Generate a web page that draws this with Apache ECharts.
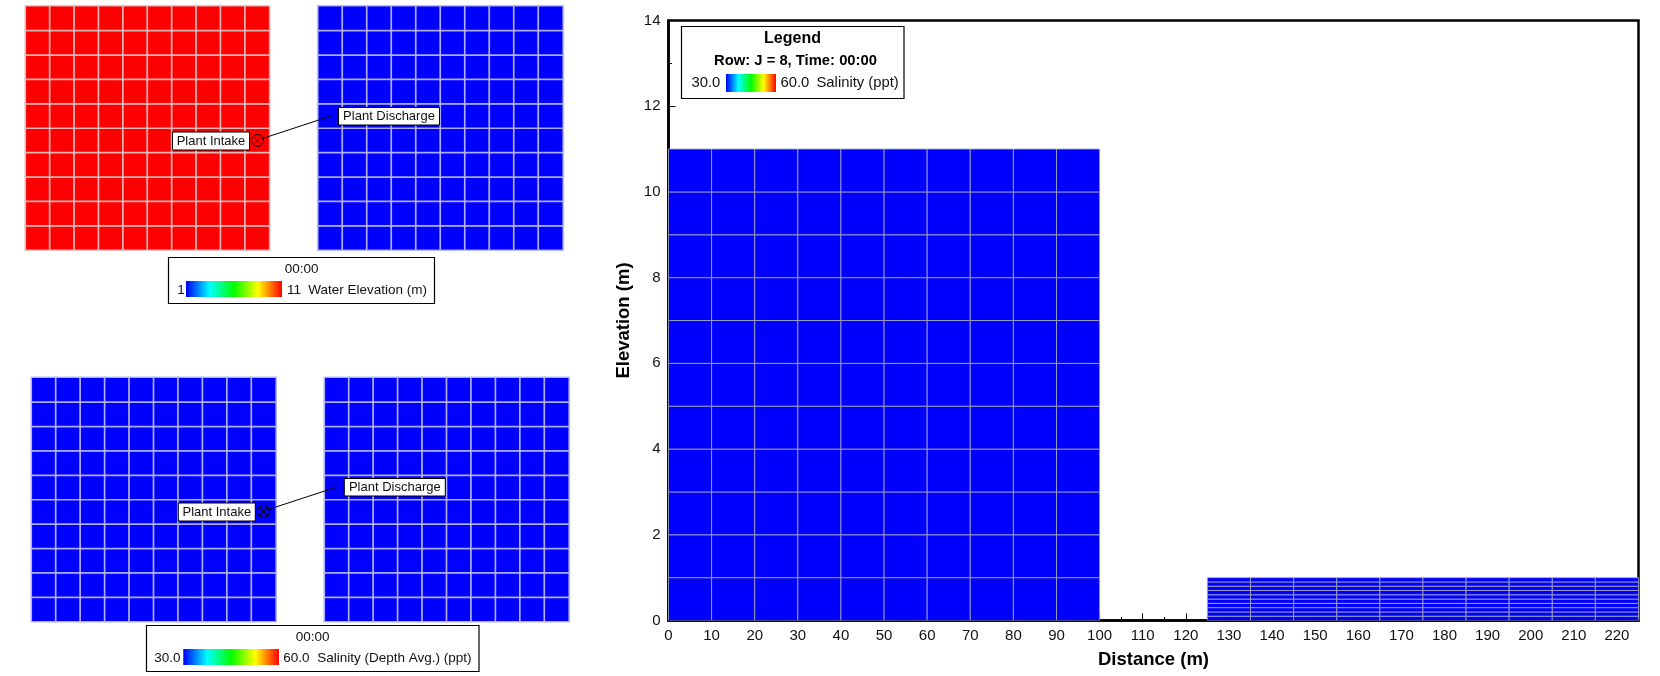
<!DOCTYPE html>
<html>
<head>
<meta charset="utf-8">
<style>html,body{margin:0;padding:0;background:#fff}#c{width:1660px;height:676px}</style>
<script src="https://cdn.jsdelivr.net/npm/echarts@6/dist/echarts.min.js"></script>
</head>
<body>
<div id="c"></div>
<script>
const gridColumns = ['1','2','3','4','5','6','7','8','9','10'];
const gridRows = ['1','2','3','4','5','6','7','8','9','10'];
const intakeElevation = [
 [11,11,11,11,11,11,11,11,11,11],[11,11,11,11,11,11,11,11,11,11],
 [11,11,11,11,11,11,11,11,11,11],[11,11,11,11,11,11,11,11,11,11],
 [11,11,11,11,11,11,11,11,11,11],[11,11,11,11,11,11,11,11,11,11],
 [11,11,11,11,11,11,11,11,11,11],[11,11,11,11,11,11,11,11,11,11],
 [11,11,11,11,11,11,11,11,11,11],[11,11,11,11,11,11,11,11,11,11]];
const dischargeElevation = [
 [1,1,1,1,1,1,1,1,1,1],[1,1,1,1,1,1,1,1,1,1],[1,1,1,1,1,1,1,1,1,1],[1,1,1,1,1,1,1,1,1,1],
 [1,1,1,1,1,1,1,1,1,1],[1,1,1,1,1,1,1,1,1,1],[1,1,1,1,1,1,1,1,1,1],[1,1,1,1,1,1,1,1,1,1],
 [1,1,1,1,1,1,1,1,1,1],[1,1,1,1,1,1,1,1,1,1]];
const intakeSalinity = [
 [30,30,30,30,30,30,30,30,30,30],[30,30,30,30,30,30,30,30,30,30],
 [30,30,30,30,30,30,30,30,30,30],[30,30,30,30,30,30,30,30,30,30],
 [30,30,30,30,30,30,30,30,30,30],[30,30,30,30,30,30,30,30,30,30],
 [30,30,30,30,30,30,30,30,30,30],[30,30,30,30,30,30,30,30,30,30],
 [30,30,30,30,30,30,30,30,30,30],[30,30,30,30,30,30,30,30,30,30]];
const dischargeSalinity = [
 [30,30,30,30,30,30,30,30,30,30],[30,30,30,30,30,30,30,30,30,30],
 [30,30,30,30,30,30,30,30,30,30],[30,30,30,30,30,30,30,30,30,30],
 [30,30,30,30,30,30,30,30,30,30],[30,30,30,30,30,30,30,30,30,30],
 [30,30,30,30,30,30,30,30,30,30],[30,30,30,30,30,30,30,30,30,30],
 [30,30,30,30,30,30,30,30,30,30],[30,30,30,30,30,30,30,30,30,30]];
const intakeXEdges = [0,10,20,30,40,50,60,70,80,90,100];
const intakeZEdges = [0,1,2,3,4,5,6,7,8,9,10,11];
const intakeSection = [
 [30,30,30,30,30,30,30,30,30,30],[30,30,30,30,30,30,30,30,30,30],[30,30,30,30,30,30,30,30,30,30],
 [30,30,30,30,30,30,30,30,30,30],[30,30,30,30,30,30,30,30,30,30],[30,30,30,30,30,30,30,30,30,30],
 [30,30,30,30,30,30,30,30,30,30],[30,30,30,30,30,30,30,30,30,30],[30,30,30,30,30,30,30,30,30,30],
 [30,30,30,30,30,30,30,30,30,30],[30,30,30,30,30,30,30,30,30,30]];
const dischargeXEdges = [125,135,145,155,165,175,185,195,205,215,225];
const dischargeZEdges = [0,0.1,0.2,0.3,0.4,0.5,0.6,0.7,0.8,0.9,1];
const dischargeSection = [
 [30,30,30,30,30,30,30,30,30,30],[30,30,30,30,30,30,30,30,30,30],
 [30,30,30,30,30,30,30,30,30,30],[30,30,30,30,30,30,30,30,30,30],
 [30,30,30,30,30,30,30,30,30,30],[30,30,30,30,30,30,30,30,30,30],
 [30,30,30,30,30,30,30,30,30,30],[30,30,30,30,30,30,30,30,30,30],
 [30,30,30,30,30,30,30,30,30,30],[30,30,30,30,30,30,30,30,30,30]];
const rainbow = ['#0000ff','#00ffff','#00ff00','#ffff00','#ff0000'];
const FONT = '"Liberation Sans", Arial, sans-serif';

function cells(rows){
  const out=[];
  rows.forEach((r,j)=>r.forEach((v,i)=>out.push([i,j,v])));
  return out;
}
function sectionCells(xe,ze,rows){
  const out=[];
  rows.forEach((r,j)=>r.forEach((v,i)=>out.push([xe[i],xe[i+1],ze[j],ze[j+1],v])));
  return out;
}
const panels = [
 {left:25.5,top:6,width:244,height:244,data:intakeElevation,line:'rgba(225,195,195,0.9)'},
 {left:318,top:6,width:245,height:244,data:dischargeElevation,line:'rgba(185,185,245,0.9)'},
 {left:31.5,top:377.5,width:244.5,height:244,data:intakeSalinity,line:'rgba(185,185,245,0.9)'},
 {left:324.5,top:377.5,width:244.5,height:244,data:dischargeSalinity,line:'rgba(185,185,245,0.9)'}
];
const grids = panels.map(p=>({left:p.left,top:p.top,width:p.width,height:p.height,show:false}));
const xAxes = panels.map((p,i)=>({type:'category',gridIndex:i,data:gridColumns,show:false}));
const yAxes = panels.map((p,i)=>({type:'category',gridIndex:i,data:gridRows,show:false}));
const series = panels.map((p,i)=>({
  type:'heatmap',xAxisIndex:i,yAxisIndex:i,data:cells(p.data),
  itemStyle:{borderColor:p.line,borderWidth:1.7},
  emphasis:{disabled:true},silent:true
}));

grids.push({left:668.5,top:20.5,width:970,height:600,show:true,borderColor:'#000',borderWidth:2.5,backgroundColor:'#fff'});
xAxes.push({type:'value',gridIndex:4,min:0,max:225,interval:10,
  axisLine:{show:true,onZero:false,lineStyle:{color:'#000',width:2.5}},
  axisTick:{show:true,inside:true,length:7,lineStyle:{color:'#000',width:1}},
  minorTick:{show:true,splitNumber:2,length:3.5,lineStyle:{color:'#000',width:1}},
  splitLine:{show:false},
  axisLabel:{color:'#111',fontFamily:FONT,fontSize:15,margin:8,showMaxLabel:false,hideOverlap:false},
  name:'Distance (m)',nameLocation:'middle',nameGap:30,
  nameTextStyle:{color:'#000',fontFamily:FONT,fontSize:18.5,fontWeight:'bold'}});
yAxes.push({type:'value',gridIndex:4,min:0,max:14,interval:2,
  axisLine:{show:true,onZero:false,lineStyle:{color:'#000',width:2.5}},
  axisTick:{show:true,inside:true,length:7,lineStyle:{color:'#000',width:1}},
  minorTick:{show:true,splitNumber:2,length:3.5,lineStyle:{color:'#000',width:1}},
  splitLine:{show:false},
  axisLabel:{color:'#111',fontFamily:FONT,fontSize:15,margin:8},
  name:'Elevation (m)',nameLocation:'middle',nameGap:34,
  nameTextStyle:{color:'#000',fontFamily:FONT,fontSize:18.5,fontWeight:'bold'}});

function renderCell(params,api){
  const a=api.coord([api.value(0),api.value(2)]);
  const b=api.coord([api.value(1),api.value(3)]);
  return {type:'rect',
    shape:{x:a[0],y:b[1],width:b[0]-a[0],height:a[1]-b[1]},
    style:{fill:api.visual('color'),stroke:'rgba(165,165,190,0.85)',lineWidth:1}};
}
[[intakeXEdges,intakeZEdges,intakeSection],[dischargeXEdges,dischargeZEdges,dischargeSection]].forEach(s=>{
  series.push({type:'custom',xAxisIndex:4,yAxisIndex:4,renderItem:renderCell,clip:true,silent:true,
    encode:{x:[0,1],y:[2,3]},data:sectionCells(s[0],s[1],s[2])});
});

function txt(x,y,t,o){
  return {type:'text',x:x,y:y,z:6,silent:true,
    style:Object.assign({text:t,fill:'#111',fontFamily:FONT,fontSize:13.5,textAlign:'left',textVerticalAlign:'middle'},o||{})};
}
function box(x,y,w,h){
  return {type:'rect',z:3,silent:true,shape:{x:x,y:y,width:w,height:h},style:{fill:'#fff',stroke:'#000',lineWidth:1.2}};
}
function colourBar(x,y,w,h){
  const n=rainbow.length-1;
  return {type:'rect',z:6,silent:true,shape:{x:x,y:y,width:w,height:h},
    style:{fill:new echarts.graphic.LinearGradient(0,0,1,0,rainbow.map((c,i)=>({offset:i/n,color:c})))}};
}
function label(x,y,w,h,t){
  return [{type:'rect',z:5,silent:true,shape:{x:x,y:y,width:w,height:h},style:{fill:'#fff',stroke:'#000',lineWidth:1}},
    txt(x+w/2,y+h/2,t,{textAlign:'center',fontSize:13})];
}
function plantMarks(dx,dy){
  const cx=257.5+dx, cy=140.5+dy, r=6, k=r*0.707, st={stroke:'#000',lineWidth:1,fill:'none'};
  return [
    {type:'line',z:5,silent:true,shape:{x1:cx+5,y1:cy-2,x2:331+dx,y2:116+dy},style:{stroke:'#000',lineWidth:1}},
    {type:'circle',z:5,silent:true,shape:{cx:cx,cy:cy,r:r},style:st},
    {type:'line',z:5,silent:true,shape:{x1:cx-k,y1:cy-k,x2:cx+k,y2:cy+k},style:st},
    {type:'line',z:5,silent:true,shape:{x1:cx-k,y1:cy+k,x2:cx+k,y2:cy-k},style:st},
    ...label(172.5+dx,132+dy,77,18,'Plant Intake'),
    ...label(338.5+dx,107.5+dy,101,17.5,'Plant Discharge')
  ];
}
const graphicEls=[
  ...plantMarks(0,0),
  ...plantMarks(5.8,371),
  box(168.5,257.5,266,46),
  txt(301.7,269.5,'00:00',{textAlign:'center'}),
  txt(177.3,290.7,'1'),
  colourBar(186,281,96,16),
  txt(287,290.7,'11'),
  txt(308.3,290.7,'Water Elevation (m)'),
  box(146.5,625.5,332.5,46),
  txt(312.7,637.5,'00:00',{textAlign:'center'}),
  txt(154.3,658.7,'30.0'),
  colourBar(183.3,649,95.7,16),
  txt(283.3,658.7,'60.0'),
  txt(317.3,658.7,'Salinity (Depth Avg.) (ppt)'),
  box(681.5,26.5,222.5,72),
  txt(792.5,38.5,'Legend',{textAlign:'center',fontWeight:'bold',fontSize:16,fill:'#000'}),
  txt(795.5,61,'Row: J = 8, Time: 00:00',{textAlign:'center',fontWeight:'bold',fontSize:14.8,fill:'#000'}),
  txt(691.5,82.5,'30.0',{fontSize:14.8}),
  colourBar(726,74,50,18),
  txt(780.5,82.5,'60.0',{fontSize:14.8}),
  txt(816.5,82.5,'Salinity (ppt)',{fontSize:14.8})
];
function vm(min,max,idx,dim){
  return {type:'continuous',show:false,min:min,max:max,seriesIndex:idx,dimension:dim,inRange:{color:rainbow}};
}
const option={
  animation:false,
  backgroundColor:'#fff',
  textStyle:{fontFamily:FONT},
  grid:grids,xAxis:xAxes,yAxis:yAxes,series:series,
  visualMap:[vm(1,11,[0,1],2),vm(30,60,[2,3],2),vm(30,60,[4,5],4)],
  graphic:{elements:graphicEls}
};
echarts.init(document.getElementById('c'),null,{renderer:'canvas'}).setOption(option);
</script>
</body>
</html>
